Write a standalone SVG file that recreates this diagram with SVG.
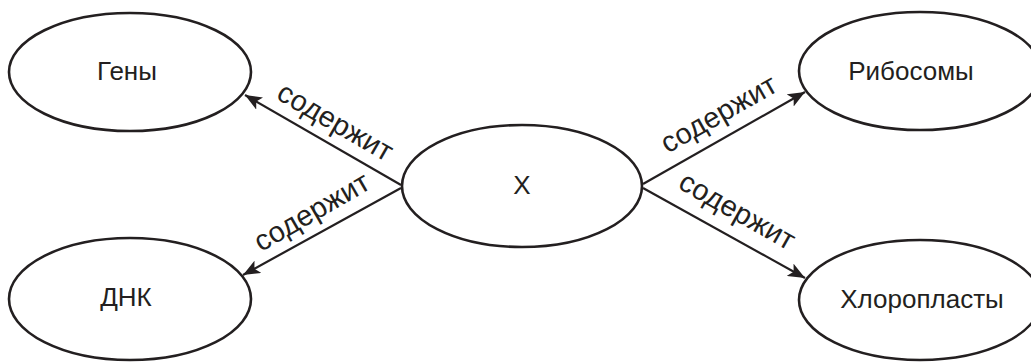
<svg xmlns="http://www.w3.org/2000/svg" width="1031" height="362" viewBox="0 0 1031 362">
<style>
.node ellipse{fill:#fff;stroke:#231f20;stroke-width:2.6}
.node text{font-family:"Liberation Sans",Arial,sans-serif;font-size:26px;fill:#231f20;text-anchor:middle}
.edge line{stroke:#231f20;stroke-width:2.2}
.lbl{font-family:"Liberation Sans",Arial,sans-serif;font-size:29px;fill:#231f20;text-anchor:middle}
</style>
<defs>
<marker id="arr" markerUnits="userSpaceOnUse" markerWidth="18" markerHeight="14" refX="17" refY="7" orient="auto">
<path d="M0,0 L17,7 L0,14 L4,7 Z" fill="#231f20"/>
</marker>
</defs>
<rect width="1031" height="362" fill="#fff"/>
<g id="connectors" class="edge">
<line x1="401" y1="185" x2="245" y2="95" marker-end="url(#arr)"/>
<line x1="401" y1="188" x2="243" y2="275" marker-end="url(#arr)"/>
<line x1="643" y1="184" x2="805" y2="92" marker-end="url(#arr)"/>
<line x1="643" y1="188" x2="805" y2="278" marker-end="url(#arr)"/>
<text class="lbl" transform="translate(334,124) rotate(30)" y="7">содержит</text>
<text class="lbl" transform="translate(313,214) rotate(-30)" y="7">содержит</text>
<text class="lbl" transform="translate(720,116) rotate(-29.5)" y="7">содержит</text>
<text class="lbl" transform="translate(736,213) rotate(29.5)" y="7">содержит</text>
</g>
<g id="node-geny" class="node"><ellipse cx="130" cy="72" rx="121" ry="59"/><text x="127" y="80">Гены</text></g>
<g id="node-dnk" class="node"><ellipse cx="130" cy="299" rx="121" ry="61"/><text x="126" y="306">ДНК</text></g>
<g id="node-x" class="node"><ellipse cx="522" cy="186" rx="120" ry="61"/><text x="522" y="194">X</text></g>
<g id="node-ribosomy" class="node"><ellipse cx="920" cy="71" rx="121" ry="59"/><text x="911" y="80">Рибосомы</text></g>
<g id="node-chloroplasty" class="node"><ellipse cx="920" cy="300" rx="121" ry="60"/><text x="922" y="308">Хлоропласты</text></g>
</svg>
